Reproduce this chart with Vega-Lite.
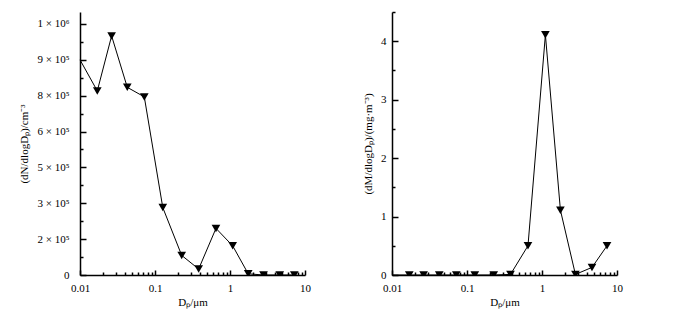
{
  "$schema": "https://vega.github.io/schema/vega-lite/v6.json",
  "padding": {"left": 18, "top": 11, "right": 5, "bottom": 5},
  "spacing": 51,
  "background": "white",
  "config": {
    "view": {"stroke": null},
    "axis": {
      "labelFont": "Liberation Serif",
      "titleFont": "Liberation Serif",
      "labelFontSize": 11,
      "titleFontSize": 11,
      "titleFontWeight": "normal",
      "labelColor": "black",
      "titleColor": "black",
      "domainColor": "black",
      "tickColor": "black",
      "domainWidth": 1.5,
      "tickWidth": 1.5,
      "grid": false
    }
  },
  "datasets": {
    "number": [
      {"dp": 0.01, "v": 900000},
      {"dp": 0.017, "v": 770000},
      {"dp": 0.0264, "v": 1000000},
      {"dp": 0.0427, "v": 785000},
      {"dp": 0.072, "v": 745000},
      {"dp": 0.127, "v": 282000},
      {"dp": 0.227, "v": 82000},
      {"dp": 0.382, "v": 25000},
      {"dp": 0.65, "v": 195000},
      {"dp": 1.086, "v": 122000},
      {"dp": 1.75, "v": 5000},
      {"dp": 2.8, "v": 0},
      {"dp": 4.6, "v": 0},
      {"dp": 7.2, "v": 0}
    ],
    "mass": [
      {"dp": 0.01, "v": 0},
      {"dp": 0.017, "v": 0},
      {"dp": 0.0264, "v": 0},
      {"dp": 0.0427, "v": 0},
      {"dp": 0.072, "v": 0},
      {"dp": 0.127, "v": 0},
      {"dp": 0.227, "v": 0},
      {"dp": 0.38, "v": 0.01},
      {"dp": 0.65, "v": 0.5},
      {"dp": 1.11, "v": 4.11},
      {"dp": 1.76, "v": 1.11},
      {"dp": 2.79, "v": 0.01},
      {"dp": 4.64, "v": 0.13},
      {"dp": 7.36, "v": 0.5}
    ]
  },
  "hconcat": [
    {
      "width": 225,
      "height": 263,
      "data": {"name": "number"},
      "resolve": {"axis": {"x": "independent", "y": "independent"}},
      "layer": [
        {
          "mark": {"type": "line", "color": "black", "strokeWidth": 1},
          "encoding": {
            "x": {
              "field": "dp", "type": "quantitative",
              "scale": {"type": "log", "domain": [0.01, 10], "nice": false},
              "axis": {
                "orient": "bottom",
                "title": "Dₚ/μm",
                "values": [0.01, 0.1, 1, 10],
                "format": "~g",
                "tickSize": -5,
                "labelPadding": 12,
                "titlePadding": 3,
                "labelFlush": false,
                "labelOverlap": false
              }
            },
            "y": {
              "field": "v", "type": "quantitative",
              "scale": {"domain": [0, 1100000], "nice": false, "zero": true},
              "axis": {
                "orient": "left",
                "title": "(dN/dlogDₚ)/cm⁻³",
                "values": [0, 150000, 300000, 450000, 600000, 750000, 900000, 1050000],
                "labelExpr": "datum.value === 0 ? '0' : datum.value >= 1000000 ? round(datum.value/1000000) + ' × 10⁶' : round(datum.value/100000) + ' × 10⁵'",
                "tickSize": -6,
                "labelPadding": 17,
                "titlePadding": 7,
                "labelOverlap": false
              }
            }
          }
        },
        {
          "transform": [{"filter": "datum.dp > 0.0101"}],
          "mark": {"type": "point", "shape": "triangle-down", "filled": true, "color": "black", "opacity": 1, "size": 75, "clip": true},
          "encoding": {
            "x": {
              "field": "dp", "type": "quantitative",
              "axis": {
                "orient": "bottom",
                "title": null,
                "values": [0.02,0.03,0.04,0.05,0.06,0.07,0.08,0.09,0.2,0.3,0.4,0.5,0.6,0.7,0.8,0.9,2,3,4,5,6,7,8,9],
                "labels": false,
                "domain": false,
                "tickSize": -3
              }
            },
            "y": {
              "field": "v", "type": "quantitative",
              "axis": {
                "orient": "left",
                "title": null,
                "values": [75000, 225000, 375000, 525000, 675000, 825000, 975000],
                "labels": false,
                "domain": false,
                "tickSize": -3
              }
            }
          }
        }
      ]
    },
    {
      "width": 225,
      "height": 263,
      "data": {"name": "mass"},
      "resolve": {"axis": {"x": "independent", "y": "independent"}},
      "layer": [
        {
          "mark": {"type": "line", "color": "black", "strokeWidth": 1},
          "encoding": {
            "x": {
              "field": "dp", "type": "quantitative",
              "scale": {"type": "log", "domain": [0.01, 10], "nice": false},
              "axis": {
                "orient": "bottom",
                "title": "Dₚ/μm",
                "values": [0.01, 0.1, 1, 10],
                "format": "~g",
                "tickSize": -5,
                "labelPadding": 12,
                "titlePadding": 3,
                "labelFlush": false,
                "labelOverlap": false
              }
            },
            "y": {
              "field": "v", "type": "quantitative",
              "scale": {"domain": [0, 4.5], "nice": false, "zero": true},
              "axis": {
                "orient": "left",
                "title": "(dM/dlogDₚ)/(mg·m⁻³)",
                "values": [0, 1, 2, 3, 4],
                "format": "d",
                "tickSize": -6,
                "labelPadding": 12,
                "titlePadding": 7,
                "labelOverlap": false
              }
            }
          }
        },
        {
          "transform": [{"filter": "datum.dp > 0.0101"}],
          "mark": {"type": "point", "shape": "triangle-down", "filled": true, "color": "black", "opacity": 1, "size": 75, "clip": true},
          "encoding": {
            "x": {
              "field": "dp", "type": "quantitative",
              "axis": {
                "orient": "bottom",
                "title": null,
                "values": [0.02,0.03,0.04,0.05,0.06,0.07,0.08,0.09,0.2,0.3,0.4,0.5,0.6,0.7,0.8,0.9,2,3,4,5,6,7,8,9],
                "labels": false,
                "domain": false,
                "tickSize": -3
              }
            },
            "y": {
              "field": "v", "type": "quantitative",
              "axis": {
                "orient": "left",
                "title": null,
                "values": [0.5, 1.5, 2.5, 3.5, 4.5],
                "labels": false,
                "domain": false,
                "tickSize": -3
              }
            }
          }
        }
      ]
    }
  ]
}
